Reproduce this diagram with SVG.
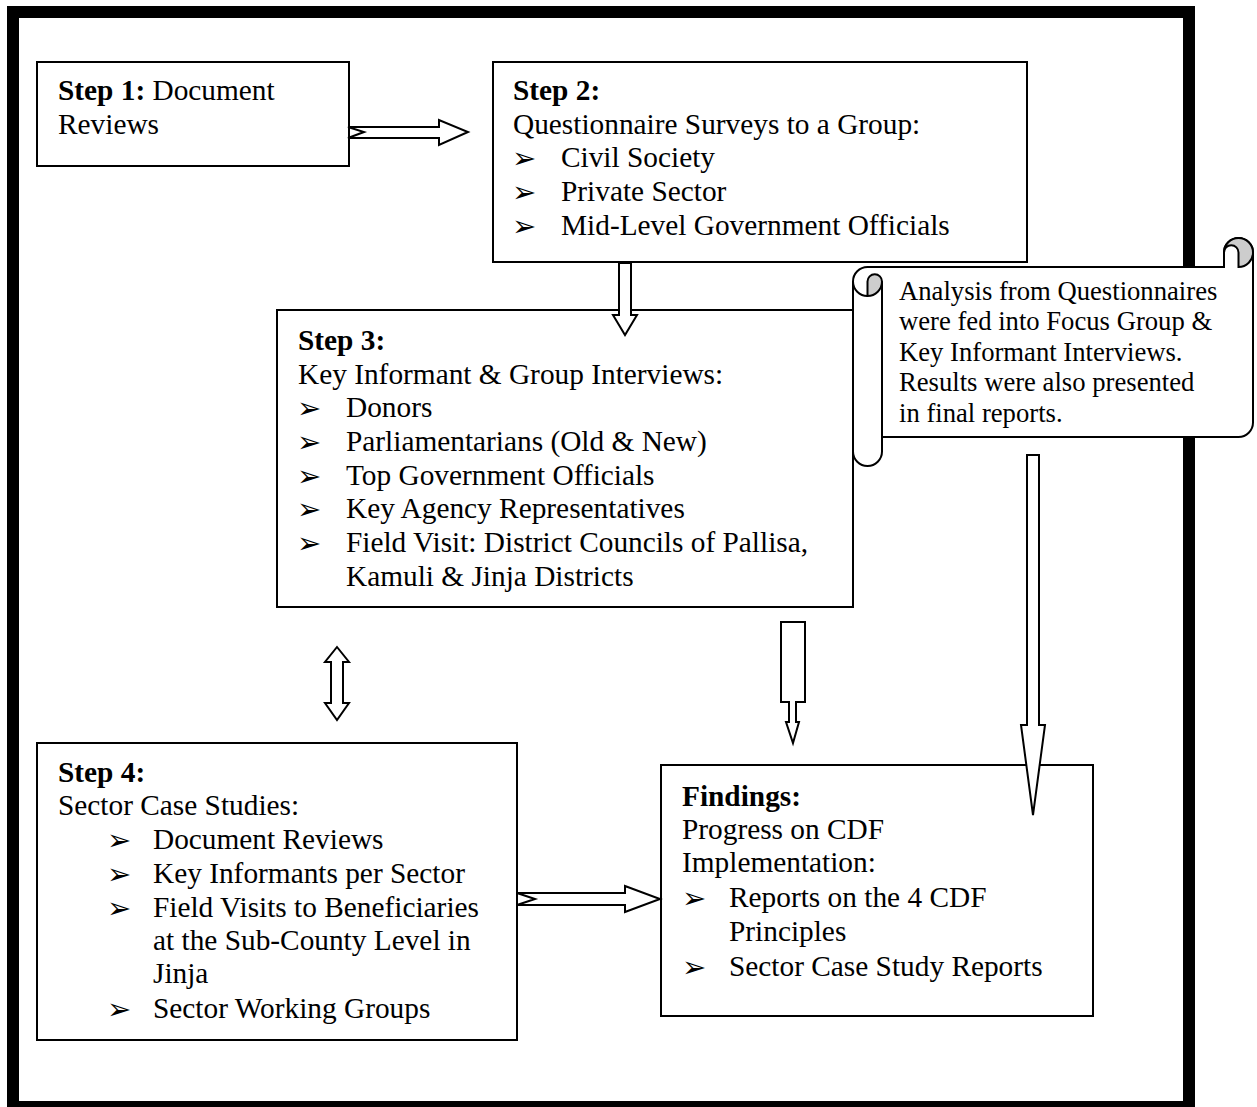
<svg xmlns="http://www.w3.org/2000/svg" width="1257" height="1107" viewBox="0 0 1257 1107">
<style>
.box{fill:#fff;stroke:#000;stroke-width:2}
.arr{fill:#fff;stroke:#000;stroke-width:2;stroke-linejoin:miter}
.t{font-family:"Liberation Serif","Times New Roman",serif;font-size:29.33px;fill:#000}
.s{font-family:"Liberation Serif","Times New Roman",serif;font-size:26.67px;fill:#000}
.b{font-weight:bold}
.bu{font-family:"DejaVu Sans",sans-serif;font-size:29px;fill:#000}
</style>
<rect x="0" y="0" width="1257" height="1107" fill="#fff"/>
<rect id="frame" x="13" y="12" width="1176" height="1095" fill="none" stroke="#000" stroke-width="12"/>

<g id="step1">
<rect class="box" x="37" y="62" width="312" height="104"/>
<text class="t" x="58" y="100"><tspan class="b">Step 1:</tspan> Document</text>
<text class="t" x="58" y="134">Reviews</text>
</g>

<g id="step2">
<rect class="box" x="493" y="62" width="534" height="200"/>
<text class="t b" x="513" y="100">Step 2:</text>
<text class="t" x="513" y="134">Questionnaire Surveys to a Group:</text>
<text class="bu" x="512" y="168">➢</text><text class="t" x="561" y="167">Civil Society</text>
<text class="bu" x="512" y="202">➢</text><text class="t" x="561" y="201">Private Sector</text>
<text class="bu" x="512" y="236">➢</text><text class="t" x="561" y="235">Mid-Level Government Officials</text>
</g>

<g id="step3">
<rect class="box" x="277" y="310" width="576" height="297"/>
<text class="t b" x="298" y="350">Step 3:</text>
<text class="t" x="298" y="384">Key Informant &amp; Group Interviews:</text>
<text class="bu" x="297" y="418">➢</text><text class="t" x="346" y="417">Donors</text>
<text class="bu" x="297" y="452">➢</text><text class="t" x="346" y="451">Parliamentarians (Old &amp; New)</text>
<text class="bu" x="297" y="486">➢</text><text class="t" x="346" y="485">Top Government Officials</text>
<text class="bu" x="297" y="519">➢</text><text class="t" x="346" y="518">Key Agency Representatives</text>
<text class="bu" x="297" y="553">➢</text><text class="t" x="346" y="552">Field Visit: District Councils of Pallisa,</text>
<text class="t" x="346" y="586">Kamuli &amp; Jinja Districts</text>
</g>

<g id="step4">
<rect class="box" x="37" y="743" width="480" height="297"/>
<text class="t b" x="58" y="782">Step 4:</text>
<text class="t" x="58" y="815">Sector Case Studies:</text>
<text class="bu" x="107" y="850">➢</text><text class="t" x="153" y="849">Document Reviews</text>
<text class="bu" x="107" y="884">➢</text><text class="t" x="153" y="883">Key Informants per Sector</text>
<text class="bu" x="107" y="918">➢</text><text class="t" x="153" y="917">Field Visits to Beneficiaries</text>
<text class="t" x="153" y="950">at the Sub-County Level in</text>
<text class="t" x="153" y="983">Jinja</text>
<text class="bu" x="107" y="1019">➢</text><text class="t" x="153" y="1018">Sector Working Groups</text>
</g>

<g id="findings">
<rect class="box" x="661" y="765" width="432" height="251"/>
<text class="t b" x="682" y="806">Findings:</text>
<text class="t" x="682" y="839">Progress on CDF</text>
<text class="t" x="682" y="872">Implementation:</text>
<text class="bu" x="682" y="908">➢</text><text class="t" x="729" y="907">Reports on the 4 CDF</text>
<text class="t" x="729" y="941">Principles</text>
<text class="bu" x="682" y="977">➢</text><text class="t" x="729" y="976">Sector Case Study Reports</text>
</g>

<g id="connectors">
<polygon class="arr" points="348,127 439,127 439,120 468,132 439,145 439,138 348,138 364,132"/>
<polygon class="arr" points="619,263 631,263 631,315 637,315 625,335 613,315 619,315"/>
<polygon class="arr" points="337,647 349,662 343,662 343,703 349,703 337,720 325,703 331,703 331,662 325,662"/>
<polygon class="arr" points="781,622 805,622 805,702 796,702 796,722 799,722 793,743 786,722 789,722 789,702 781,702"/>
<polygon class="arr" points="1027,455 1039,455 1039,725 1045,725 1033,815 1021,725 1027,725"/>
<polygon class="arr" points="517,893 625,893 625,886 660,899 625,912 625,905 517,905 535,899"/>
</g>

<g id="note">
<path class="arr" d="M853,281.5 A14.5,14.5 0 0 1 867.5,267 L1224,267 L1224,252.5 A14.5,14.5 0 0 1 1253,252.5 L1253,422.5 A14.5,14.5 0 0 1 1238.5,437 L882,437 L882,451.5 A14.5,14.5 0 0 1 853,451.5 Z"/>
<path d="M1224,252.5 A14.5,14.5 0 0 1 1253,252.5 A14.5,14.5 0 0 1 1238.5,267 L1238.5,252.5 A7.25,7.25 0 0 0 1224,252.5 Z" fill="#cdcdcd" stroke="#000" stroke-width="2"/>
<path d="M867.5,296 A14.5,14.5 0 0 0 882,281.5 A7.25,7.25 0 0 0 867.5,281.5 Z" fill="#cdcdcd" stroke="#000" stroke-width="2"/>
<path d="M853,281.5 A14.5,14.5 0 0 0 867.5,296 M882,281.5 L882,437" fill="none" stroke="#000" stroke-width="2"/>
<text class="s" x="899" y="300">Analysis from Questionnaires</text>
<text class="s" x="899" y="330">were fed into Focus Group &amp;</text>
<text class="s" x="899" y="361">Key Informant Interviews.</text>
<text class="s" x="899" y="391">Results were also presented</text>
<text class="s" x="899" y="422">in final reports.</text>
</g>
</svg>
